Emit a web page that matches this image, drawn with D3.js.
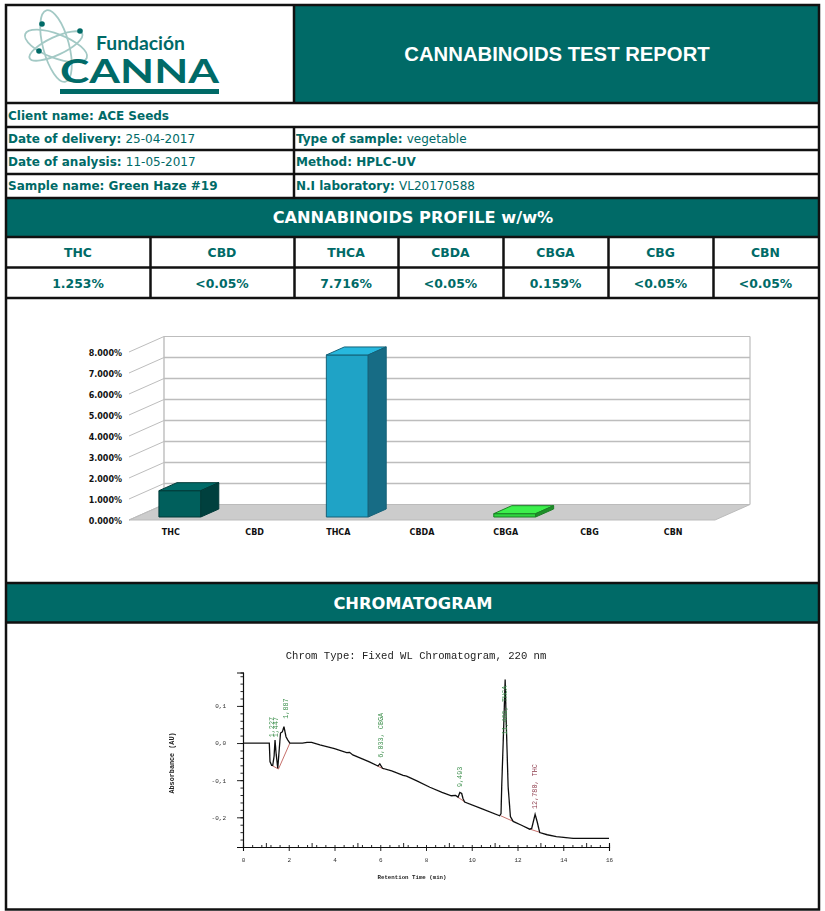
<!DOCTYPE html>
<html>
<head>
<meta charset="utf-8">
<script src="https://cdn.jsdelivr.net/npm/d3@7"></script>
<style>
  html, body { margin: 0; padding: 0; background: #fff; }
  svg { display: block; }
  text { font-family: "DejaVu Sans", sans-serif; }
</style>
</head>
<body>
<div id="report"></div>
<script>
// report values
const infoRows = [
    [['Client name: ', 'ACE Seeds', true]],
    [['Date of delivery: ', '25-04-2017', false], ['Type of sample: ', 'vegetable', false]],
    [['Date of analysis: ', '11-05-2017', false], ['Method: ', 'HPLC-UV', true]],
    [['Sample name: ', 'Green Haze #19', true], ['N.I laboratory: ', 'VL20170588', false]]
]
const cannabinoids = ['THC', 'CBD', 'THCA', 'CBDA', 'CBGA', 'CBG', 'CBN']
const resultLabels = ['1.253%', '<0.05%', '7.716%', '<0.05%', '0.159%', '<0.05%', '<0.05%']
const barValues = [1.253, 0, 7.716, 0, 0.159, 0, 0]
const barTicks = [0, 1, 2, 3, 4, 5, 6, 7, 8]
const barFront = ['#005f5c', null, '#1fa3c6', null, '#2fd63f', null, null]
const barTop = ['#006b68', null, '#27b8de', null, '#3cf04c', null, null]
const barSide = ['#00403e', null, '#176c85', null, '#1f8f2a', null, null]

// chromatogram trace
const traceTime = [0, 1.15, 1.18, 1.25, 1.3, 1.36, 1.4, 1.45, 1.52, 1.58, 1.64, 1.72, 1.79, 1.88, 1.96, 2.05, 2.6, 2.8, 3.0, 3.36, 4.0, 4.53, 4.66, 4.8, 5.5, 5.9, 5.98, 6.1, 6.5, 7.0, 7.15, 7.6, 8.17, 8.7, 9.11, 9.3, 9.4, 9.48, 9.56, 9.62, 9.69, 10.4, 11.22, 11.28, 11.31, 11.4, 11.46, 11.51, 11.59, 11.69, 11.81, 12.2, 12.53, 12.62, 12.77, 12.86, 12.97, 13.3, 13.7, 14.43, 16]
const traceAU = [0, 0, -0.05, -0.06, -0.06, -0.035, 0.008, -0.03, -0.068, -0.02, 0.027, 0.03, 0.044, 0.017, 0.008, 0, 0, 0.002, 0.002, -0.005, -0.015, -0.026, -0.025, -0.032, -0.05, -0.062, -0.056, -0.068, -0.075, -0.087, -0.089, -0.102, -0.119, -0.133, -0.142, -0.141, -0.146, -0.133, -0.136, -0.15, -0.159, -0.176, -0.196, -0.19, -0.117, 0.05, 0.171, 0.05, -0.117, -0.198, -0.211, -0.222, -0.232, -0.23, -0.192, -0.212, -0.241, -0.247, -0.252, -0.257, -0.257]
const baseStart = [[1.25, -0.06], [1.55, -0.07], [5.88, -0.062], [9.4, -0.146], [11.27, -0.196], [12.55, -0.232]]
const baseEnd = [[1.55, -0.07], [2.05, 0], [6.15, -0.07], [9.68, -0.158], [11.78, -0.21], [13.0, -0.241]]
const peakTimes = [1.27, 1.447, 1.887, 6.033, 9.493, 11.469, 12.78]
const peakNames = ['1,227', '1,447', '1,887', '6,033, CBGA', '9,493', '11,469, THCA', '12,780, THC']
const peakBottom = [0.01, 0.01, 0.06, -0.045, -0.124, 0.017, -0.183]
const peakColor = ['#3c8f4c', '#3c8f4c', '#3c8f4c', '#3c8f4c', '#3c8f4c', '#3c8f4c', '#8c3a4a']
const chromXTicks = [0, 2, 4, 6, 8, 10, 12, 14, 16]
const chromYTicks = [0.1, 0, -0.1, -0.2]

const teal = '#006a67'
const width = 825
const height = 911

const svg = d3.select('#report').append('svg')
    .attr('width', width)
    .attr('height', height)

svg.append('defs').append('filter').attr('id', 'soft')
    .append('feGaussianBlur').attr('stdDeviation', 0.3)

// bands
function band(x, y, w, h) {
    svg.append('rect').attr('x', x).attr('y', y).attr('width', w).attr('height', h).attr('fill', teal)
}
function rule(x1, y1, x2, y2, sw) {
    svg.append('line').attr('x1', x1).attr('y1', y1).attr('x2', x2).attr('y2', y2)
        .attr('stroke', '#111').attr('stroke-width', sw || 2.5)
}
band(295, 6, 524, 97)
band(7, 198, 812, 39)
band(7, 584, 812, 38)

// logo
const logo = svg.append('g')
logo.selectAll('ellipse').data([[21, 33, 12], [75, 37, 13], [-25, 29, 9]]).join('ellipse')
    .attr('cx', 56).attr('cy', 46).attr('rx', d => d[1]).attr('ry', d => d[2])
    .attr('transform', d => `rotate(${d[0]} 56 46)`)
    .attr('fill', 'none').attr('stroke', '#a3c9c5').attr('stroke-width', 1.8)
logo.selectAll('circle').data([[42, 24], [80, 31], [39, 51]]).join('circle')
    .attr('cx', d => d[0]).attr('cy', d => d[1]).attr('r', 2.8).attr('fill', teal)
logo.append('text').attr('x', 96).attr('y', 50)
    .attr('font-size', 18).attr('font-weight', 700).attr('fill', teal)
    .style('font-family', 'Lato').attr('textLength', 89).attr('lengthAdjust', 'spacingAndGlyphs').text('Fundación')
logo.append('text').attr('x', 60).attr('y', 82.5)
    .attr('font-size', 33).attr('font-weight', 700).attr('fill', teal)
    .style('font-family', 'Lato').attr('textLength', 159).attr('lengthAdjust', 'spacingAndGlyphs').text('CANNA')
logo.append('rect').attr('x', 60).attr('y', 89).attr('width', 159).attr('height', 5).attr('fill', teal)

// titles
svg.append('text').attr('x', 557).attr('y', 61).attr('text-anchor', 'middle')
    .attr('font-size', 20.3).attr('font-weight', 700).attr('fill', '#fff')
    .style('font-family', '"Liberation Sans"').text('CANNABINOIDS TEST REPORT')
svg.append('text').attr('x', 413).attr('y', 223).attr('text-anchor', 'middle')
    .attr('font-size', 16.2).attr('font-weight', 700).attr('fill', '#fff').text('CANNABINOIDS PROFILE w/w%')
svg.append('text').attr('x', 413).attr('y', 609).attr('text-anchor', 'middle')
    .attr('font-size', 16.3).attr('font-weight', 700).attr('fill', '#fff').text('CHROMATOGRAM')

// info rows
const rowBase = [119.5, 143, 166, 190]
infoRows.forEach((cells, i) => {
    cells.forEach((c, j) => {
        const t = svg.append('text').attr('x', j ? 296 : 8).attr('y', rowBase[i])
            .attr('font-size', 12).attr('fill', teal)
        t.append('tspan').attr('font-weight', 700).text(c[0])
        t.append('tspan').attr('font-weight', c[2] ? 700 : 400).text(c[1])
    })
})

// results table
const colEdges = [7, 151, 295, 399, 504, 609, 714, 819]
cannabinoids.forEach((name, i) => {
    const cx = (colEdges[i] + colEdges[i + 1]) / 2 - 1
    svg.append('text').attr('x', cx).attr('y', 256.5).attr('text-anchor', 'middle')
        .attr('font-size', 12.4).attr('font-weight', 700).attr('fill', teal).text(name)
    svg.append('text').attr('x', cx).attr('y', 287.5).attr('text-anchor', 'middle')
        .attr('font-size', 12.4).attr('font-weight', 700).attr('fill', teal).text(resultLabels[i])
})

// table rules
rule(6, 103, 819, 103)
rule(6, 127, 819, 127)
rule(6, 150, 819, 150)
rule(6, 174, 819, 174)
rule(6, 198, 819, 198)
rule(6, 237, 819, 237)
rule(6, 267.5, 819, 267.5)
rule(6, 298, 819, 298)
rule(6, 583, 819, 583)
rule(6, 622.5, 819, 622.5)
rule(294, 5, 294, 103)
rule(294, 127, 294, 198)
colEdges.slice(1, 7).forEach(x => rule(x - 0.5, 237, x - 0.5, 298))
svg.append('rect').attr('x', 6).attr('y', 5).attr('width', 813).attr('height', 904.5)
    .attr('fill', 'none').attr('stroke', '#111').attr('stroke-width', 2.5)

// 3D bar chart
const depthX = 35
const depthY = -15.5
const xBar = d3.scaleBand().domain(cannabinoids).range([129, 715])
const yBar = d3.scaleLinear().domain([0, 8]).range([520, 352])
const gridColor = '#bdbdbd'
const bars = svg.append('g')

const poly = (pts, fill, stroke) => bars.append('polygon')
    .attr('points', pts.map(p => p.join(',')).join(' '))
    .attr('fill', fill).attr('stroke', stroke || 'none')

// floor
poly([[129, 520], [715, 520], [750, 504.5], [164, 504.5]], '#cccccc', '#bbb')

barTicks.forEach(t => {
    const y = yBar(t)
    bars.append('line').attr('x1', 129).attr('y1', y).attr('x2', 129 + depthX).attr('y2', y + depthY)
        .attr('stroke', gridColor).attr('stroke-width', 1)
    if (t > 0) {
        bars.append('line').attr('x1', 129 + depthX).attr('y1', y + depthY).attr('x2', 750).attr('y2', y + depthY)
            .attr('stroke', gridColor).attr('stroke-width', t % 8 ? 1.4 : 1)
    }
})
bars.append('line').attr('x1', 164).attr('x2', 164).attr('y1', yBar(8) + depthY).attr('y2', yBar(0) + depthY)
    .attr('stroke', gridColor).attr('stroke-width', 1.4)
bars.append('line').attr('x1', 750).attr('x2', 750).attr('y1', yBar(8) + depthY).attr('y2', yBar(0) + depthY)
    .attr('stroke', gridColor).attr('stroke-width', 1.2)

// bars
const barWidth = xBar.bandwidth() / 2
cannabinoids.forEach((name, i) => {
    if (!barValues[i]) return
    const x0 = xBar(name) + xBar.bandwidth() / 2 + 9 - barWidth / 2
    const x1 = x0 + barWidth
    const yb = yBar(0) - 3
    const yt = yBar(barValues[i]) - 3
    const edge = d3.color(barSide[i]).darker(0.3).formatHex()
    poly([[x0, yb], [x1, yb], [x1, yt], [x0, yt]], barFront[i], edge)
    poly([[x0, yt], [x1, yt], [x1 + 18, yt - 8], [x0 + 18, yt - 8]], barTop[i], edge)
    poly([[x1, yb], [x1 + 18, yb - 8], [x1 + 18, yt - 8], [x1, yt]], barSide[i], edge)
})

// bar axes
const barAxisY = d3.axisLeft(yBar).tickValues(barTicks).tickSize(0).tickPadding(7)
    .tickFormat(d => d3.format('.3f')(d) + '%')
const barAxisX = d3.axisBottom(xBar).tickSize(0).tickPadding(9)
svg.append('g').attr('transform', 'translate(129,1)').call(barAxisY)
    .call(g => g.select('.domain').remove())
    .selectAll('text').attr('font-size', 8).attr('font-weight', 700).attr('fill', '#111')
    .style('font-family', '"DejaVu Sans"')
svg.append('g').attr('transform', 'translate(0,520)').call(barAxisX)
    .call(g => g.select('.domain').remove())
    .selectAll('text').attr('font-size', 8).attr('font-weight', 700).attr('fill', '#111')
    .style('font-family', '"DejaVu Sans"')

// chromatogram
const xChrom = d3.scaleLinear().domain([0, 16]).range([243, 609])
const yChrom = d3.scaleLinear().domain([0.19, -0.28]).range([672.5, 847])
const chrom = svg.append('g').attr('filter', 'url(#soft)')
const mono = '"Liberation Mono", monospace'

chrom.append('text').attr('x', 416).attr('y', 659).attr('text-anchor', 'middle')
    .attr('font-size', 10.6).attr('fill', '#222').style('font-family', mono)
    .text('Chrom Type: Fixed WL Chromatogram, 220 nm')

const axisXMajor = d3.axisBottom(xChrom).tickValues(chromXTicks).tickSize(4).tickPadding(7)
    .tickFormat(d3.format('d'))
const axisXMinor = d3.axisBottom(xChrom).tickValues(d3.range(0, 16.01, 0.4)).tickSize(-2).tickFormat('')
const axisXMid = d3.axisBottom(xChrom).tickValues(d3.range(1, 16, 2)).tickSize(-4).tickFormat('')
const gx = chrom.append('g').attr('transform', 'translate(0,847)')
gx.append('g').call(axisXMinor)
gx.append('g').call(axisXMid)
gx.append('g').call(axisXMajor)
gx.selectAll('text').attr('font-size', 6).attr('fill', '#333').style('font-family', mono)

const axisYMajor = d3.axisLeft(yChrom).tickValues(chromYTicks).tickSize(6).tickPadding(11)
    .tickFormat(d => d3.format('.1f')(d).replace('.', ',').replace('−', '-'))
const axisYMinor = d3.axisLeft(yChrom).tickValues(d3.range(-0.28, 0.19, 0.02)).tickSize(2.5).tickFormat('')
const gy = chrom.append('g').attr('transform', 'translate(243,0)')
gy.append('g').call(axisYMinor)
gy.append('g').call(axisYMajor)
gy.selectAll('text').attr('font-size', 6).attr('fill', '#333').style('font-family', mono)
chrom.selectAll('.domain').attr('stroke', '#111').attr('stroke-width', 1.1)
chrom.selectAll('.tick line').attr('stroke', '#111').attr('stroke-width', 0.9)

chrom.append('text').attr('transform', 'translate(174,763) rotate(-90)').attr('text-anchor', 'middle')
    .attr('font-size', 6.8).attr('font-weight', 700).attr('fill', '#222')
    .style('font-family', mono).text('Absorbance (AU)')
chrom.append('text').attr('x', 412).attr('y', 879).attr('text-anchor', 'middle')
    .attr('font-size', 5.75).attr('font-weight', 700).attr('fill', '#222')
    .style('font-family', mono).text('Retention Time (min)')

// integration baselines
baseStart.forEach((s, i) => {
    chrom.append('line')
        .attr('x1', xChrom(s[0])).attr('y1', yChrom(s[1]))
        .attr('x2', xChrom(baseEnd[i][0])).attr('y2', yChrom(baseEnd[i][1]))
        .attr('stroke', '#c0605a').attr('stroke-width', 0.9)
})

// trace
const line = d3.line()
    .x(d => xChrom(d))
    .y((d, i) => yChrom(traceAU[i]))
chrom.append('path').datum(traceTime)
    .attr('d', line)
    .attr('fill', 'none').attr('stroke', '#111').attr('stroke-width', 1.3)

// peak labels
peakNames.forEach((name, i) => {
    const x = xChrom(peakTimes[i]) + 2
    const y = yChrom(peakBottom[i]) - 2
    chrom.append('text').attr('transform', `translate(${x},${y}) rotate(-90)`)
        .attr('font-size', 6.8).attr('fill', peakColor[i]).style('font-family', mono)
        .text(name)
})
</script>
</body>
</html>
